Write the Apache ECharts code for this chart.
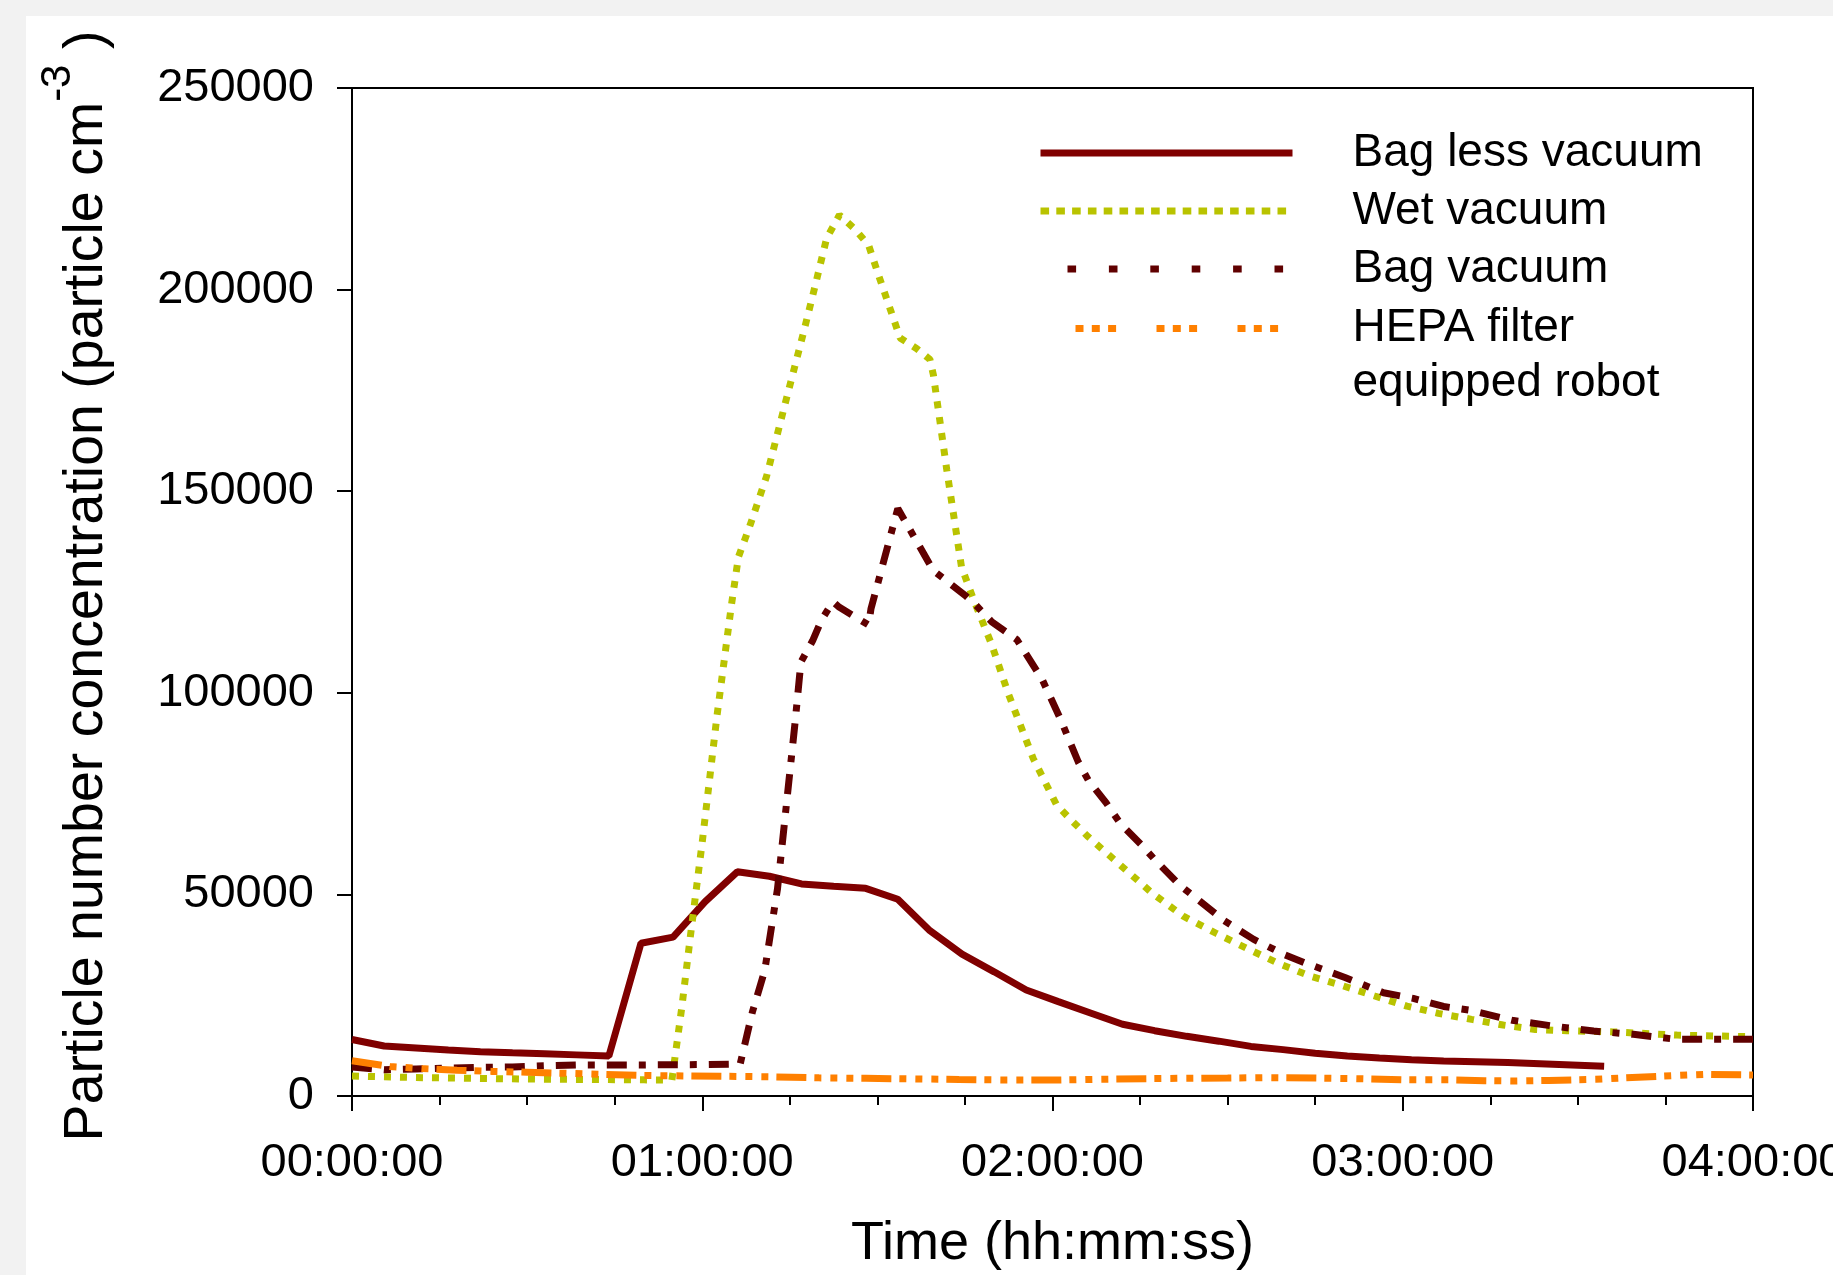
<!DOCTYPE html>
<html>
<head>
<meta charset="utf-8">
<title>Particle number concentration</title>
<script src="https://cdn.jsdelivr.net/npm/echarts/dist/echarts.min.js"></script>
<style>
    body { margin: 0; background: #f2f2f2; }
    #main { position: absolute; left: 26px; top: 16px; width: 1807px; height: 1259px; background: #fff; }
</style>
</head>
<body>
<div id="main"></div>
<script>
// time in minutes, concentration in particle cm-3
var bagLessTime = [0, 5.5, 11, 16.5, 22, 27.5, 33, 38.5, 44, 49.5, 55, 60.5, 66, 71.5, 77, 82.5, 88, 93.5, 99, 104.5,
    110, 115.5, 121, 126.5, 132, 137.5, 143, 148.5, 154, 159.5, 165, 170.5, 176, 181.5, 187, 192.5, 198, 203.5, 209, 214.5];
var bagLessConc = [14000, 12400, 11900, 11400, 11000, 10700, 10500, 10200, 9900, 37900, 39400, 48200, 55600, 54500, 52600, 52000, 51500, 48800, 41000, 35200,
    30800, 26300, 23400, 20600, 17800, 16200, 14800, 13600, 12300, 11500, 10600, 9900, 9400, 9000, 8700, 8500, 8300, 8000, 7700, 7400];

var wetTime = [0, 10, 20, 30, 40, 50, 54.8, 56.5, 58, 60, 62.5, 65, 66.2, 68.2, 71, 74.5, 77.3, 79.3, 81.3, 83.5,
    86.2, 88.5, 90.2, 93.9, 96.7, 99, 99.6, 101.9, 104.4, 106.4, 109.6, 112.4, 116.7, 120.7, 123.3, 126.1, 131.6, 137, 142.4, 148.1,
    153.6, 159, 164.4, 169.8, 175.2, 180.7, 186.1, 191.8, 197.2, 202.7, 208.1, 216, 227, 240];
var wetConc = [4960, 4600, 4400, 4200, 4100, 4000, 3970, 22000, 40000, 63000, 94000, 121800, 133700, 141600, 153600, 173400, 189100, 200700, 212700, 218500,
    214900, 211000, 203600, 188000, 185400, 182700, 178800, 155200, 131300, 123400, 111900, 99900, 83700, 72200, 68300, 64300, 57300, 50400, 44600, 40300,
    36400, 32700, 29600, 27300, 24800, 22300, 20500, 19000, 17600, 16500, 16200, 15900, 15100, 14700];

var bagTime = [0, 5.5, 11, 16.5, 22, 27.5, 33, 38.5, 44, 49.5, 55, 60.5, 66.5, 68.6, 70.7, 72.9, 75.9, 76.9, 78.9, 80.4,
    82.4, 83.5, 88.5, 88.9, 90.8, 92.7, 93.5, 95.6, 99.6, 105, 106.7, 109.6, 113.9, 118.2, 121.3, 124.4, 126.1, 129.2, 131.6, 135.1,
    137.6, 141.8, 149.3, 154.4, 159.8, 163.1, 170.1, 176.7, 181.8, 187, 191.4, 198.7, 205.5, 212.7, 219.5, 226.6, 240];
var bagConc = [7200, 6500, 6700, 6900, 7100, 7200, 7500, 7700, 7700, 7700, 7750, 7800, 7950, 20900, 31100, 51500, 92600, 107600, 112900, 118000,
    122600, 121200, 116800, 120800, 131100, 141400, 145700, 140400, 130300, 124200, 122000, 117600, 113200, 103400, 93700, 82900, 78400, 72700, 67600, 62500,
    58500, 52300, 43600, 38900, 35000, 33100, 29400, 25600, 24200, 22200, 21300, 18800, 17400, 16100, 15300, 14100, 14100];

var hepaTime = [0, 6.5, 12, 18, 24, 30, 36, 42, 50, 58, 66, 72, 80, 88, 96, 104, 112, 121, 128, 136,
    142, 150, 157, 165, 172, 180, 188, 194, 199, 205, 213, 218, 226, 232, 240];
var hepaConc = [8760, 7300, 6800, 6400, 6100, 5900, 5650, 5400, 5100, 4960, 4850, 4750, 4500, 4380, 4250, 4100, 3970, 3970, 4150, 4300,
    4380, 4450, 4550, 4450, 4300, 4000, 4000, 3800, 3720, 3850, 4130, 4500, 5030, 5380, 5200];

var names = ['Bag less vacuum', 'Wet vacuum', 'Bag vacuum', 'HEPA filter\nequipped robot'];
var hourTicks = ['00:00:00', '01:00:00', '02:00:00', '03:00:00', '04:00:00'];

function pairs(t, v) {
    return t.map(function (x, i) { return [x, v[i]]; });
}

var font = 'Liberation Sans, Arial, Helvetica, sans-serif';
var myChart = echarts.init(document.getElementById('main'));

var option = {
    animation: false,
    grid: {
        left: 326, top: 72, right: 80, bottom: 179,
        show: true, borderColor: '#000', borderWidth: 2,
        outerBoundsMode: 'none'
    },
    legend: [{
        left: 1011, top: 108, orient: 'vertical', padding: 0,
        itemWidth: 252, itemHeight: 14, itemGap: 0,
        selectedMode: false,
        itemStyle: { opacity: 0 },
        textStyle: { fontFamily: font, fontSize: 46, color: '#000', lineHeight: 58, padding: [0, 0, 0, 55] },
        data: [
            { name: names[0], lineStyle: { width: 7 } },
            { name: names[1], lineStyle: { width: 7, type: [8.6, 7.2] } },
            { name: names[2], lineStyle: { width: 7, type: [8.6, 32.8], dashOffset: 14.4 } }
        ]
    }, {
        // blank first line keeps "HEPA filter" level with the icon
        left: 1011, top: 230, orient: 'vertical', padding: 0,
        itemWidth: 252, itemHeight: 14,
        selectedMode: false,
        itemStyle: { opacity: 0 },
        formatter: function (name) { return ' \n' + name; },
        textStyle: { fontFamily: font, fontSize: 46, color: '#000', lineHeight: 55, padding: [0, 0, 0, 55] },
        data: [
            { name: names[3], lineStyle: { width: 7, type: [8, 8.3, 8, 8.3, 8, 40.4], dashOffset: 46 } }
        ]
    }],
    xAxis: {
        type: 'value', min: 0, max: 240, interval: 60,
        name: 'Time (hh:mm:ss)', nameLocation: 'middle', nameGap: 121, nameMoveOverlap: false,
        nameTextStyle: { fontFamily: font, fontSize: 54, color: '#000' },
        axisLine: { lineStyle: { color: '#000', width: 2 } },
        axisTick: { length: 15, lineStyle: { color: '#000', width: 2 } },
        minorTick: { show: true, splitNumber: 4, length: 9, lineStyle: { color: '#000', width: 2 } },
        splitLine: { show: false },
        axisLabel: {
            fontFamily: font, fontSize: 47, color: '#000', margin: 44, showMaxLabel: true,
            formatter: function (v) { return hourTicks[v / 60]; }
        }
    },
    yAxis: {
        type: 'value', min: 0, max: 250000, interval: 50000,
        name: '{p|Particle number concentration (particle cm}{s|-3}{a| )}',
        nameLocation: 'middle', nameGap: 215, nameMoveOverlap: false,
        nameTextStyle: {
            fontFamily: font, color: '#000',
            rich: {
                p: { fontFamily: font, fontSize: 55.5, lineHeight: 100, color: '#000', padding: [0, 0, 0, 12] },
                a: { fontFamily: font, fontSize: 55.5, lineHeight: 100, color: '#000' },
                s: { fontFamily: font, fontSize: 42, lineHeight: 42, verticalAlign: 'top', color: '#000' }
            }
        },
        axisLine: { show: true, lineStyle: { color: '#000', width: 2 } },
        axisTick: { show: true, length: 15, lineStyle: { color: '#000', width: 2 } },
        splitLine: { show: false },
        axisLabel: {
            fontFamily: font, fontSize: 47, color: '#000', margin: 38,
            formatter: function (v) { return String(v); }
        }
    },
    series: [{
        name: names[0], type: 'line', symbol: 'none',
        lineStyle: { color: '#800000', width: 7 },
        itemStyle: { color: '#800000' },
        data: pairs(bagLessTime, bagLessConc)
    }, {
        name: names[1], type: 'line', symbol: 'none',
        lineStyle: { color: '#b9c300', width: 7, type: [7, 9] },
        itemStyle: { color: '#b9c300' },
        data: pairs(wetTime, wetConc)
    }, {
        name: names[2], type: 'line', symbol: 'none',
        lineStyle: { color: '#600000', width: 7, type: [20, 12, 7, 12] },
        itemStyle: { color: '#600000' },
        data: pairs(bagTime, bagConc)
    }, {
        name: names[3], type: 'line', symbol: 'none',
        lineStyle: { color: '#ff8000', width: 7, type: [30, 8, 7, 9, 7, 9, 7, 8] },
        itemStyle: { color: '#ff8000' },
        data: pairs(hepaTime, hepaConc)
    }]
};

myChart.setOption(option);
</script>
</body>
</html>
